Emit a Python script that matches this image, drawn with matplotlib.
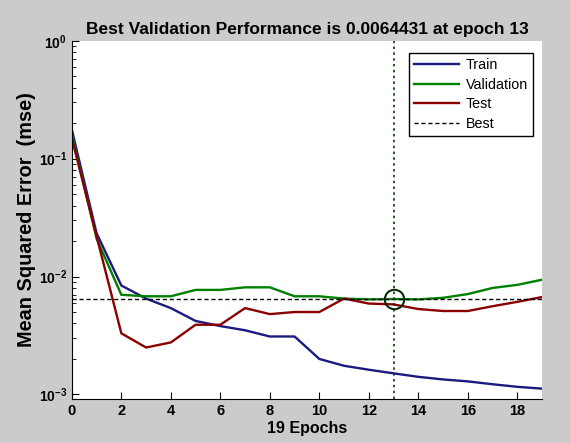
import matplotlib
matplotlib.use('Agg')
import matplotlib.pyplot as plt
import numpy as np

plt.rcParams['font.family'] = ['Liberation Sans', 'DejaVu Sans']
plt.rcParams['mathtext.fontset'] = 'custom'
plt.rcParams['mathtext.bf'] = 'Liberation Sans:bold'
plt.rcParams['mathtext.rm'] = 'Liberation Sans:bold'

# data
epochs = list(range(20))
train = [0.176, 0.0233, 0.0084, 0.0065, 0.0054, 0.0042, 0.0038, 0.0035, 0.0031, 0.0031,
         0.0020, 0.00175, 0.00162, 0.00151, 0.00141, 0.00134, 0.00129, 0.00122, 0.00116, 0.00112]
validation = [0.16, 0.021, 0.0070, 0.0068, 0.0068, 0.0077, 0.0077, 0.0081, 0.0081, 0.0068,
              0.0068, 0.0065, 0.0064, 0.0064431, 0.0064, 0.0066, 0.0071, 0.0080, 0.0085, 0.0094]
test = [0.149, 0.022, 0.0033, 0.0025, 0.00276, 0.0039, 0.0039, 0.0054, 0.0048, 0.0050,
        0.0050, 0.0065, 0.0059, 0.0058, 0.0053, 0.0051, 0.0051, 0.0056, 0.0061, 0.0067]
best_epoch = 13
best_perf = 0.0064431

bg = '#cbcbcb'
fig = plt.figure(figsize=(5.7, 4.43), dpi=100, facecolor=bg)
ax = fig.add_axes([0.126, 0.099, 0.825, 0.809])

ax.semilogy(epochs, train, color='#1a1a80', lw=1.7, label='Train')
ax.semilogy(epochs, validation, color='#008000', lw=1.7, label='Validation')
ax.semilogy(epochs, test, color='#8b0000', lw=1.7, label='Test')
ax.axhline(best_perf, color='k', ls=(0, (3, 2)), lw=1.0, label='Best')
ax.axvline(best_epoch, color='#0a3a0a', ls=(0, (1.5, 2)), lw=1.2)
ax.plot([best_epoch], [best_perf], 'o', mfc='none', mec='#0a2a0a', ms=14, mew=1.5)

ax.set_xlim(0, 19)
ax.set_ylim(10 ** -3.04, 1)
ax.set_xticks(range(0, 19, 2))
ax.set_xticklabels([str(v) for v in range(0, 19, 2)], fontweight='bold', fontsize=10.5)
ax.set_yticks([1e-3, 1e-2, 1e-1, 1])
ax.set_yticklabels([r'$\mathbf{10^{-3}}$', r'$\mathbf{10^{-2}}$', r'$\mathbf{10^{-1}}$', r'$\mathbf{10^{0}}$'],
                   fontsize=10)
ax.tick_params(which='both', direction='in', top=False, right=False)
ax.tick_params(which='major', length=5)
ax.tick_params(which='minor', length=3)
ax.spines['top'].set_visible(False)
ax.spines['right'].set_visible(False)

ax.set_title('Best Validation Performance is 0.0064431 at epoch 13', fontsize=12.5, fontweight='bold', pad=5)
ax.set_xlabel('19 Epochs', fontsize=11.5, fontweight='bold', labelpad=2)
ax.set_ylabel('Mean Squared Error  (mse)', fontsize=14.3, fontweight='bold', labelpad=2)

leg = ax.legend(loc='upper right', fontsize=10.3, handlelength=3.1, fancybox=False,
                edgecolor='k', framealpha=1, borderpad=0.35, labelspacing=0.38,
                handletextpad=0.5, bbox_to_anchor=(0.996, 0.985))
leg.get_frame().set_linewidth(1.0)

fig.savefig('out.png', dpi=100, facecolor=bg)
